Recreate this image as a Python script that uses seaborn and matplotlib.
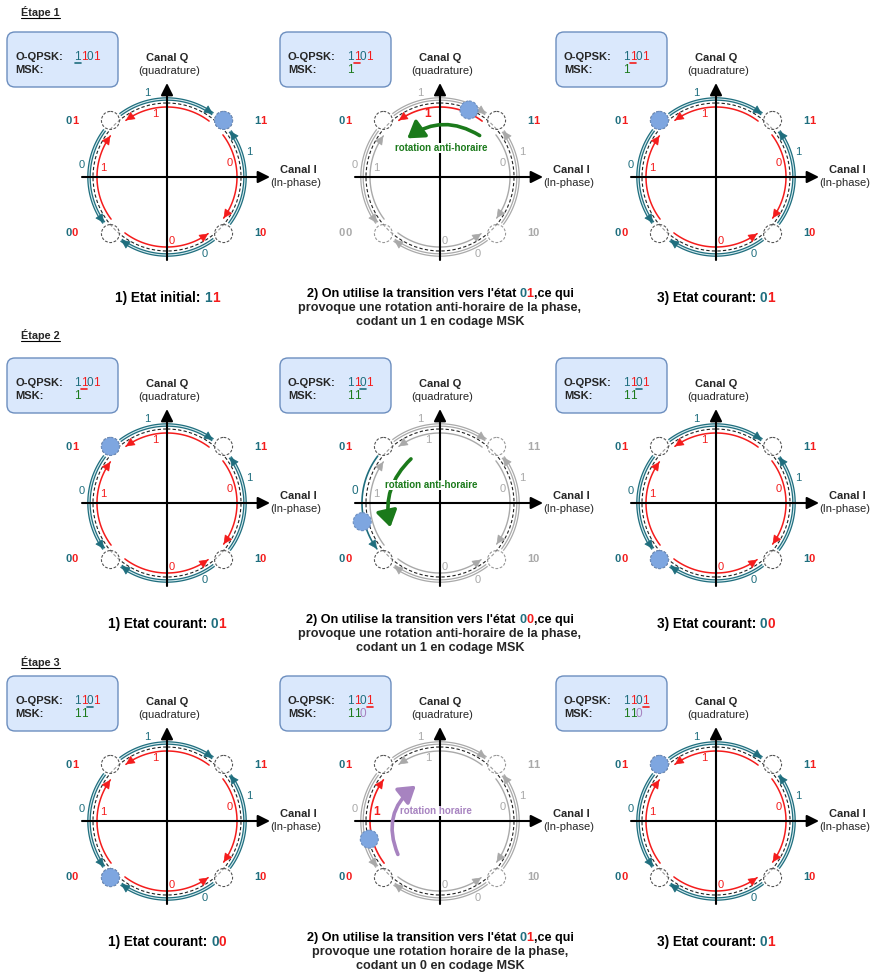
import numpy as np
import matplotlib
matplotlib.use("Agg")
import matplotlib.pyplot as plt
from matplotlib.patches import Circle, FancyBboxPatch, FancyArrowPatch
import seaborn as sns

# ---- data ----
step_titles = ["Étape 1", "Étape 2", "Étape 3"]
state_names = ["11", "01", "00", "10"]
state_angles = [45, 135, 225, 315]
state_path = ["11", "01", "00", "01"]          # initial state, then after each step
qpsk_bits = ["1", "1", "0", "1"]
msk_bits = ["1", "1", "0"]
rotation_names = ["anti-horaire", "anti-horaire", "horaire"]
first_caption = ["1) Etat initial: ", "1) Etat courant: ", "1) Etat courant: "]

# arcs between states: start, end, bit written on it, channel (Q = red inner, I = teal outer)
tr_start = ["11", "00", "00", "11", "01", "10", "10", "01"]
tr_end = ["01", "01", "10", "10", "11", "11", "00", "00"]
tr_bit = ["1", "1", "0", "0", "1", "1", "0", "0"]
tr_chan = ["Q", "Q", "Q", "Q", "I", "I", "I", "I"]

# ---- layout / style ----
ROW_CY = [177, 503, 821]
COL_CX = [167, 440, 716]
ETAPE_Y = [12, 335, 662]
R_IN, R_MID, R_OUT, R_STATE = 70, 74, 78, 80
tr_label_ang = [101, 172, 274, 13, 103, 17, 296, 172]
dot_frac = [0.24, 0.65, 0.34]
rot_arrow = [((42, -40), (-35, -37), 0.35, (1, -29)),
             ((-27, -46), (-49, 27), 0.3, (-9, -18)),
             ((-41, 36), (-22, -37), -0.4, (-4, -10))]

TEAL = "#1f6e7e"
RED = "#f41c1c"
GREEN = "#1b7a1b"
PURPLE = "#a783c0"
GRAY = "#a9a9a9"
BLUE = "#7ea6e0"
BOX_FC, BOX_EC = "#dae8fc", "#6c8ebf"
CAP_SIZE = 9.8
MID_SIZE = 9.1

sns.set_theme(style="white")
plt.rcParams["font.family"] = ["Liberation Sans", "DejaVu Sans"]

fig = plt.figure(figsize=(8.75, 9.77), dpi=100)
ax = fig.add_axes([0, 0, 1, 1])
ax.set_xlim(0, 875)
ax.set_ylim(977, 0)
ax.axis("off")
renderer = fig.canvas.get_renderer()


def ink(s, size, weight):
    t = ax.text(0, 0, s, fontsize=size, fontweight=weight)
    w = t.get_window_extent(renderer).width
    t.remove()
    return w


def adv(s, size, weight):
    # pen advance of s, independent of side bearings
    return ink("x" + s + "x", size, weight) - ink("xx", size, weight)


def rich(x, y, parts, size=8, weight="bold", ha="left", underline=None):
    full = "".join(p[0] for p in parts)
    if ha == "center":
        x = x - adv(full, size, weight) / 2
    prefix = ""
    for i, (s, c) in enumerate(parts):
        x0 = x + (adv(prefix, size, weight) if prefix else 0)
        ax.text(x0, y, s, color=c, fontsize=size, fontweight=weight,
                ha="left", va="center", zorder=6)
        if underline == i:
            x1 = x0 + adv(s, size, weight)
            ax.plot([x0 + 0.5, x1], [y + 6, y + 6], color=c, lw=1.2, zorder=6)
        prefix += s


def pt(cx, cy, r, a):
    return cx + r * np.cos(np.radians(a)), cy - r * np.sin(np.radians(a))


def state_parts(s, c1=TEAL, c2=RED):
    return [(s[0], c1), (s[1], c2)]


def draw_arc(cx, cy, k, color, double, lw=1.1):
    a0 = state_angles[state_names.index(tr_start[k])]
    a1 = state_angles[state_names.index(tr_end[k])]
    d = (a1 - a0 + 180) % 360 - 180
    sg = np.sign(d)
    r = R_IN if tr_chan[k] == "Q" else R_OUT
    th = np.linspace(a0 + sg * 8, a0 + d - sg * 9, 80)
    xs, ys = pt(cx, cy, r, th)
    if double:
        ax.plot(xs, ys, color=color, lw=2.6, zorder=2, solid_capstyle="butt")
        inner = "#d6eaee" if color == TEAL else "white"
        ax.plot(xs, ys, color=inner, lw=0.8, zorder=2.1)
    else:
        ax.plot(xs, ys, color=color, lw=lw, zorder=2.2)
    ax.annotate("", xy=(xs[-1], ys[-1]), xytext=(xs[-4], ys[-4]),
                arrowprops=dict(arrowstyle="-|>,head_length=0.55,head_width=0.28",
                                color=color, lw=0.5, mutation_scale=10,
                                shrinkA=0, shrinkB=0), zorder=3)


def draw_panel(cx, cy, grey=False, dot_state=None, active=None, frac=0.5):
    # axes
    for xy, xyt in [((cx + 103, cy), (cx - 85, cy)), ((cx, cy - 94), (cx, cy + 83))]:
        ax.annotate("", xy=xy, xytext=xyt,
                    arrowprops=dict(arrowstyle="-|>,head_length=0.6,head_width=0.3",
                                    color="black", lw=1.5, mutation_scale=12,
                                    shrinkA=0, shrinkB=0), zorder=4)
    ax.text(cx, cy - 119, "Canal Q", fontsize=8, fontweight="bold", ha="center", va="center")
    ax.text(cx + 2, cy - 106, "(quadrature)", fontsize=8, ha="center", va="center")
    ax.text(cx + 131, cy - 7, "Canal I", fontsize=8, fontweight="bold", ha="center", va="center")
    ax.text(cx + 129, cy + 6, "(In-phase)", fontsize=8, ha="center", va="center")

    # dashed reference circle
    ax.add_patch(Circle((cx, cy), R_MID, fill=False, ec="#222222", lw=0.8,
                        ls=(0, (3, 2)), zorder=2.3))

    ends = []
    if active is not None:
        ends = [tr_start[active], tr_end[active]]
    for k in range(len(tr_start)):
        col = RED if tr_chan[k] == "Q" else TEAL
        lr = 64 if tr_chan[k] == "Q" else 86
        lx, ly = pt(cx, cy, lr, tr_label_ang[k])
        if grey and k != active:
            draw_arc(cx, cy, k, GRAY, tr_chan[k] == "I", lw=1.0)
            ax.text(lx, ly, tr_bit[k], color=GRAY, fontsize=8, ha="center", va="center")
        elif grey:
            draw_arc(cx, cy, k, col, False, lw=1.2)
            ax.text(lx, ly, tr_bit[k], color=col, fontsize=8.5,
                    fontweight="bold" if tr_chan[k] == "Q" else "normal",
                    ha="center", va="center")
        else:
            draw_arc(cx, cy, k, col, tr_chan[k] == "I")
            ax.text(lx, ly, tr_bit[k], color=col, fontsize=8, ha="center", va="center")

    for s, a in zip(state_names, state_angles):
        px, py = pt(cx, cy, R_STATE, a)
        ec = "#999999" if (grey and s not in ends) else "#555555"
        ax.add_patch(Circle((px, py), 9, fc="white", alpha=0.55, ec="none", zorder=3.5))
        ax.add_patch(Circle((px, py), 9, fill=False, ec=ec, lw=0.8,
                            ls=(0, (2.5, 1.5)), zorder=3.6))
        sx = cx + (93 if np.cos(np.radians(a)) > 0 else -95)
        sy = cy + (-56 if np.sin(np.radians(a)) > 0 else 56)
        if grey and s not in ends:
            rich(sx, sy, state_parts(s, GRAY, GRAY), ha="center")
        else:
            rich(sx, sy, state_parts(s), ha="center")

    if dot_state is not None:
        px, py = pt(cx, cy, R_STATE, state_angles[state_names.index(dot_state)])
    else:
        a0 = state_angles[state_names.index(tr_start[active])]
        a1 = state_angles[state_names.index(tr_end[active])]
        d = (a1 - a0 + 180) % 360 - 180
        r = R_IN + 3 if tr_chan[active] == "Q" else R_OUT + 2
        px, py = pt(cx, cy, r, a0 + frac * d)
    ax.add_patch(Circle((px, py), 9, fc=BLUE, ec=BOX_EC, lw=0.8,
                        ls=(0, (2.5, 1.5)), zorder=5))


def draw_box(cx, cy, under, msk):
    x0, y0 = cx - 160, cy - 145
    ax.add_patch(FancyBboxPatch((x0, y0), 111, 55,
                                boxstyle="round,pad=0,rounding_size=8",
                                fc=BOX_FC, ec=BOX_EC, lw=1.0, zorder=1))
    ax.text(x0 + 8, y0 + 25, "O-QPSK:", fontsize=8, fontweight="bold", va="center")
    ax.text(x0 + 8, y0 + 38, "MSK:", fontsize=8, fontweight="bold", va="center")
    cols = [TEAL, RED, TEAL, RED]
    rich(x0 + 67, y0 + 25, [(b, c) for b, c in zip(qpsk_bits, cols)],
         size=8.5, weight="normal", underline=under)
    if msk:
        rich(x0 + 67, y0 + 38,
             [(b, GREEN if r == "anti-horaire" else PURPLE)
              for b, r in zip(msk, rotation_names)], size=8.5, weight="normal")


for i in range(3):
    cy = ROW_CY[i]
    ax.text(21, ETAPE_Y[i], step_titles[i], fontsize=7.8, fontweight="bold", va="center")
    w = ink(step_titles[i], 7.8, "bold")
    ax.plot([21, 21 + w], [ETAPE_Y[i] + 6, ETAPE_Y[i] + 6], color="black", lw=0.8)

    cur, nxt = state_path[i], state_path[i + 1]
    active = [k for k in range(len(tr_start)) if tr_start[k] == cur and tr_end[k] == nxt][0]

    # panel 1
    draw_box(COL_CX[0], cy, i, msk_bits[:i])
    draw_panel(COL_CX[0], cy, dot_state=cur)
    rich(COL_CX[0], cy + 121, [(first_caption[i], "black")] + state_parts(cur),
         size=CAP_SIZE, ha="center")

    # panel 2: transition
    cx = COL_CX[1]
    draw_box(cx, cy, i + 1, msk_bits[:i + 1])
    draw_panel(cx, cy, grey=True, active=active, frac=dot_frac[i])
    rot_col = GREEN if rotation_names[i] == "anti-horaire" else PURPLE
    (sx, sy), (ex, ey), rad, (tx, ty) = rot_arrow[i]
    ax.add_patch(FancyArrowPatch((cx + sx, cy + sy), (cx + ex, cy + ey),
                                 connectionstyle=f"arc3,rad={rad}",
                                 arrowstyle="-|>,head_length=0.7,head_width=0.45",
                                 mutation_scale=14, color=rot_col, lw=2.6, zorder=5))
    ax.text(cx + tx, cy + ty, "rotation " + rotation_names[i], color=rot_col,
            fontsize=7, fontweight="bold", ha="center", va="center", zorder=6,
            bbox=dict(fc="white", ec="none", pad=0.3))
    rich(cx, cy + 117, [("2) On utilise la transition vers l'état ", "black")]
         + state_parts(nxt) + [(",ce qui", "black")], size=MID_SIZE, ha="center")
    ax.text(cx, cy + 131, f"provoque une rotation {rotation_names[i]} de la phase,",
            fontsize=MID_SIZE, fontweight="bold", ha="center", va="center")
    ax.text(cx, cy + 145, f"codant un {msk_bits[i]} en codage MSK",
            fontsize=MID_SIZE, fontweight="bold", ha="center", va="center")

    # panel 3
    draw_box(COL_CX[2], cy, i + 1, msk_bits[:i + 1])
    draw_panel(COL_CX[2], cy, dot_state=nxt)
    rich(COL_CX[2], cy + 121, [("3) Etat courant: ", "black")] + state_parts(nxt),
         size=CAP_SIZE, ha="center")

fig.savefig("out.png", dpi=100)
